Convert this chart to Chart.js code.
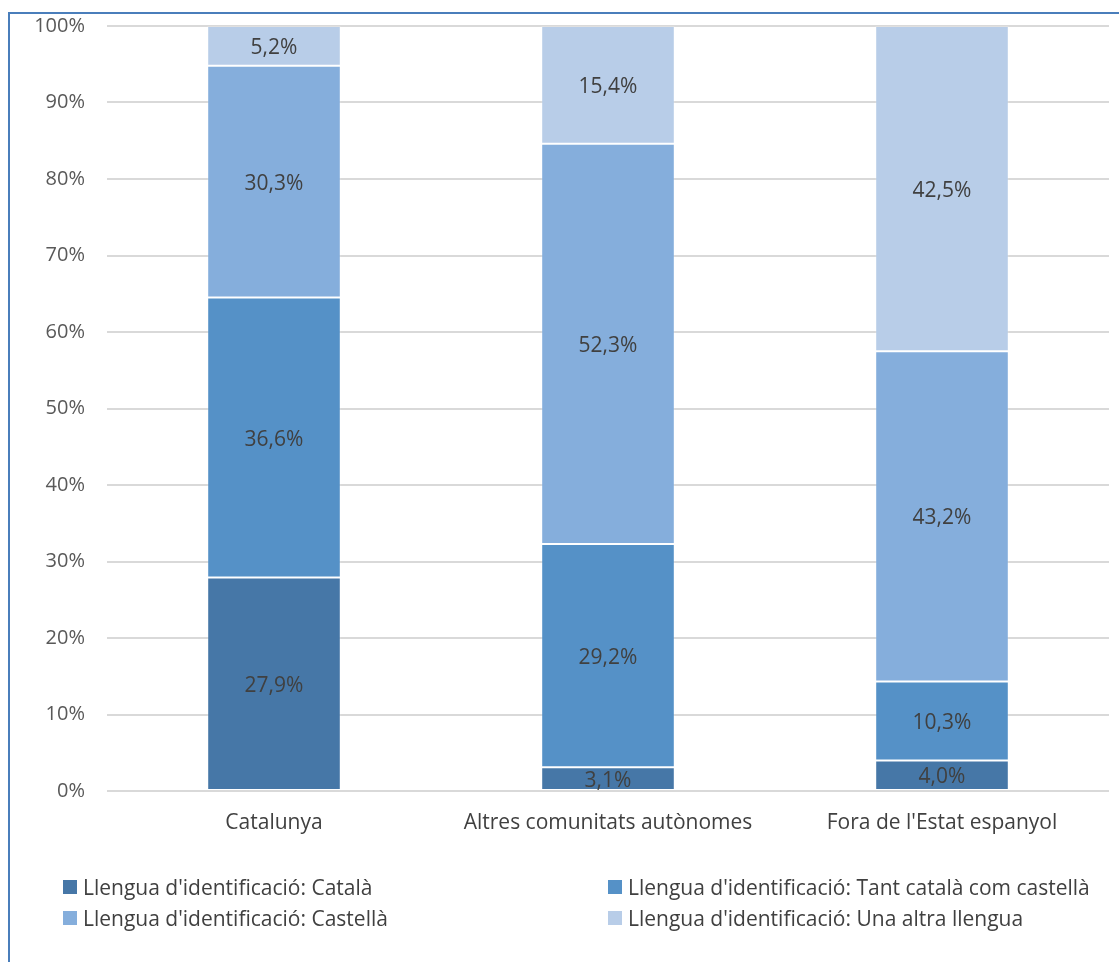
<!DOCTYPE html>
<html>
<head>
<meta charset="utf-8">
<script src="https://cdn.jsdelivr.net/npm/chart.js@4"></script>
<style>
  html, body { margin: 0; padding: 0; background: #fff; }
  body { width: 1119px; height: 962px; position: relative; overflow: hidden; font-family: "Open Sans", sans-serif; }
  #frame { position: absolute; left: 8px; top: 12px; width: 1130px; height: 970px; border: 2px solid #4A7EBB; box-sizing: border-box; }
  #wrap { position: absolute; left: 0; top: 0; width: 1119px; height: 962px; }
  #legend { position: absolute; left: 63px; top: 876px; width: 1050px; display: grid; grid-template-columns: 545px 500px; row-gap: 9px; }
  .item { display: flex; align-items: center; font-size: 21px; color: #404040; height: 22px; white-space: nowrap; }
  .box { width: 14px; height: 14px; margin-right: 6px; flex: none; }
</style>
</head>
<body>
<div id="frame"></div>
<div id="wrap"><canvas id="c" width="1119" height="962"></canvas></div>
<div id="legend"></div>
<script>
const categories = ["Catalunya", "Altres comunitats autònomes", "Fora de l'Estat espanyol"];
const seriesNames = [
  "Llengua d'identificació: Català",
  "Llengua d'identificació: Tant català com castellà",
  "Llengua d'identificació: Castellà",
  "Llengua d'identificació: Una altra llengua"
];
const catala = [27.9, 3.1, 4.0];
const tantCatalaCastella = [36.6, 29.2, 10.3];
const castella = [30.3, 52.3, 43.2];
const unaAltra = [5.2, 15.4, 42.5];
const yTicks = [0, 10, 20, 30, 40, 50, 60, 70, 80, 90, 100];
const colors = ["#4677A7", "#5591C7", "#85AEDC", "#B8CDE8"];

const seriesValues = [catala, tantCatalaCastella, castella, unaAltra];
const FONT = "'Open Sans', sans-serif";

const labelPlugin = {
  id: 'segLabels',
  afterDatasetsDraw(chart) {
    const ctx = chart.ctx;
    ctx.save();
    ctx.font = "21px " + FONT;
    ctx.fillStyle = "#404040";
    ctx.textAlign = "center";
    ctx.textBaseline = "middle";
    chart.data.datasets.forEach((ds, di) => {
      const meta = chart.getDatasetMeta(di);
      meta.data.forEach((bar, i) => {
        const v = ds.data[i];
        const yMid = (bar.y + bar.base) / 2 + 2;
        ctx.fillText(v.toFixed(1).replace('.', ',') + '%', bar.x, yMid);
      });
    });
    ctx.restore();
  }
};

const chart = new Chart(document.getElementById('c'), {
  type: 'bar',
  data: {
    labels: categories,
    datasets: seriesNames.map((n, i) => ({
      label: n,
      data: seriesValues[i],
      backgroundColor: colors[i],
      borderColor: 'rgba(255,255,255,0.2)',
      borderWidth: 1,
      borderSkipped: false,
      categoryPercentage: 1.0,
      barPercentage: 0.4
    }))
  },
  options: {
    responsive: false,
    animation: false,
    devicePixelRatio: 1,
    layout: { padding: { left: 0, right: 10, top: 26, bottom: 111 } },
    plugins: { legend: { display: false }, tooltip: { enabled: false } },
    scales: {
      x: {
        stacked: true,
        grid: { display: false, drawTicks: false },
        border: { display: false },
        ticks: { color: "#404040", font: { family: FONT, size: 21 }, padding: 19, maxRotation: 0 },
        afterFit(s) { s.height = 60; s.paddingLeft = 0; s.paddingRight = 0; }
      },
      y: {
        stacked: true,
        min: 0, max: 100,
        afterBuildTicks(s) { s.ticks = yTicks.map(v => ({ value: v })); },
        grid: { color: "#D9D9D9", lineWidth: 2, drawTicks: false },
        border: { display: false },
        ticks: { color: "#595959", font: { family: FONT, size: 20 }, padding: 22, callback: v => v + '%' },
        afterFit(s) { s.width = 107; s.paddingTop = 0; s.paddingBottom = 0; }
      }
    }
  },
  plugins: [labelPlugin]
});

const legend = document.getElementById('legend');
[0, 1, 2, 3].forEach(i => {
  const d = document.createElement('div');
  d.className = 'item';
  d.innerHTML = '<span class="box" style="background:' + colors[i] + '"></span><span></span>';
  d.lastChild.textContent = seriesNames[i];
  legend.appendChild(d);
});
</script>
</body>
</html>
